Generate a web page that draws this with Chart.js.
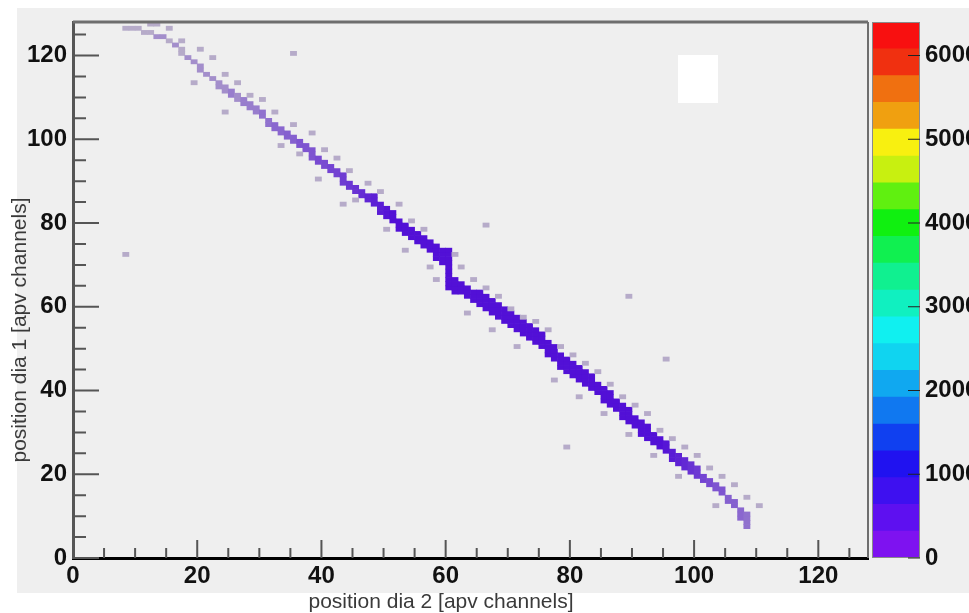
<!DOCTYPE html>
<html>
<head>
<meta charset="utf-8">
<script src="https://cdn.jsdelivr.net/npm/chart.js@4.4.1/dist/chart.umd.min.js"></script>
<style>
  body { margin: 0; background: #fff; width: 969px; height: 613px; overflow: hidden; position: relative; }
  #bg { position: absolute; left: 17px; top: 8px; width: 952px; height: 585px; background: #efefef; }
  #hist { position: absolute; left: 0; top: 0; }
  #zbar { position: absolute; left: 860px; top: 0; }
</style>
</head>
<body>
<div id="bg"></div>
<canvas id="hist" width="969" height="613"></canvas>
<canvas id="zbar" width="109" height="613"></canvas>
<script>
// 2D histogram: position dia 1 vs position dia 2

const xTitle = 'position dia 2 [apv channels]'
const yTitle = 'position dia 1 [apv channels]'
const axisMax = 128
const zMax = 6400
const zTicks = [0, 1000, 2000, 3000, 4000, 5000, 6000]

// band of hits, one entry per channel column starting at firstCol
const firstCol = 8
const bandLo = [
  126,126,126,125,125,124,124,123,122,120,
  119,118,116,115,114,112,111,110,109,108,
  107,106,105,103,102,101,100,99,98,97,
  95,94,93,92,91,89,88,87,86,85,
  84,82,81,80,78,77,76,75,74,73,
  71,70,64,63,63,62,61,60,59,58,
  57,56,55,54,53,52,51,50,48,47,
  45,44,43,42,41,40,39,37,36,35,
  33,32,31,29,28,27,26,25,23,22,
  21,20,19,18,17,16,15,13,12,9,7
]
const bandThick = [
  1,1,1,1,1,1,1,1,1,2,
  1,1,2,1,1,2,2,2,2,2,
  2,2,2,2,2,2,2,2,2,2,
  3,2,2,2,2,3,2,2,2,2,
  3,3,3,3,3,3,3,3,3,3,
  4,4,10,4,3,3,3,4,4,4,
  4,4,4,4,4,4,4,4,4,4,
  4,4,4,4,4,4,3,4,4,3,
  4,4,3,4,4,3,3,3,3,3,
  3,3,3,2,2,2,2,2,2,3,4
]
const bandCount = [
  1,1,1,1,1,2,2,1,2,1,
  2,2,2,2,2,2,2,3,2,3,
  3,3,4,4,5,5,6,6,8,8,
  8,10,10,12,12,14,16,18,20,24,
  28,30,36,40,46,50,55,60,60,70,
  80,85,90,95,100,105,110,115,120,125,
  130,140,140,145,150,150,150,145,140,135,
  130,125,120,110,105,100,95,90,85,80,
  70,65,60,55,50,45,40,35,30,26,
  22,18,15,12,10,8,8,6,6,5,4
]

// isolated single hits around the band
const strayX = [12,13,15,17,20,22,19,24,26,28,24,30,32,33,35,36,38,40,39,42,
  44,45,43,47,49,50,52,54,53,56,57,58,61,62,64,63,66,68,67,70,
  72,71,74,76,78,77,80,82,81,84,86,85,88,90,89,92,94,93,96,98,
  97,100,102,104,103,106,108,110,8,89,79,66,95,35]
const strayY = [127,127,126,123,121,119,113,115,113,110,106,109,106,98,103,96,101,97,90,95,
  92,85,84,89,87,78,84,80,73,78,69,66,72,69,66,58,64,62,54,59,
  57,50,56,54,50,42,48,46,38,44,41,34,38,36,29,34,30,24,28,26,
  19,24,21,19,12,17,14,12,72,62,26,79,47,120]

// colour palette of the z axis, bottom to top
const palette = ['#7e12f0','#5e10f0','#3e10f0','#2012f0','#1040f0','#1078f0','#10a8f0','#10d4f0',
  '#10f0f0','#10f0c0','#10f090','#10f050','#10f010','#60f010','#c8f010','#f8f010',
  '#f0a010','#f07010','#f03010','#f81010']

const tickFont = { family: '"Liberation Sans", Arial, sans-serif', size: 24, weight: 'bold' }

function hex(c) { return [1, 3, 5].map(i => parseInt(c.substr(i, 2), 16)) }
function mix(a, b, t) {
  const p = hex(a), q = hex(b)
  return 'rgb(' + p.map((v, i) => Math.round(v + (q[i] - v) * t)).join(',') + ')'
}
function cellColor(n) {
  const lvl = Math.min(palette.length - 1, Math.floor(n / (zMax / palette.length)))
  if (lvl > 0) return palette[lvl]
  // lowest level: single hits look grey-violet in the picture, dense ones saturate
  const t = Math.min(1, Math.log(n) / Math.log(40))
  return mix('#b6abc9', '#5210d6', t)
}

const cells = []
bandLo.forEach((lo, i) => {
  for (let k = 0; k < bandThick[i]; k++) {
    cells.push({ x: firstCol + i + 0.5, y: [lo + k, lo + k + 1], v: bandCount[i] })
  }
})
strayX.forEach((x, i) => {
  cells.push({ x: x + 0.5, y: [strayY[i], strayY[i] + 1], v: 1 })
})

const frameAndTicks = {
  id: 'frameAndTicks',
  afterDraw(chart) {
    const ctx = chart.ctx
    const a = chart.chartArea
    const xs = chart.scales.x, ys = chart.scales.y
    ctx.save()
    // stats box leftover
    ctx.fillStyle = '#ffffff'
    ctx.fillRect(678, 55, 40, 48)
    ctx.strokeStyle = '#6e6e6e'
    ctx.lineWidth = 3
    ctx.beginPath()
    ctx.moveTo(a.left, a.top); ctx.lineTo(a.right, a.top)
    ctx.stroke()
    ctx.lineWidth = 2
    ctx.beginPath()
    ctx.moveTo(a.right, a.top); ctx.lineTo(a.right, a.bottom)
    ctx.stroke()
    ctx.strokeStyle = '#555'
    ctx.lineWidth = 2
    ctx.beginPath()
    xs.ticks.forEach(t => {
      const p = xs.getPixelForValue(t.value)
      const len = t.value % 20 === 0 ? 18 : 10
      ctx.moveTo(p, a.bottom); ctx.lineTo(p, a.bottom - len)
    })
    ys.ticks.forEach(t => {
      const p = ys.getPixelForValue(t.value)
      const len = t.value % 20 === 0 ? 26 : 13
      ctx.moveTo(a.left, p); ctx.lineTo(a.left + len, p)
    })
    ctx.stroke()
    // axis titles
    ctx.fillStyle = '#3a3a3a'
    ctx.font = '21px "Liberation Sans", Arial, sans-serif'
    ctx.textAlign = 'center'
    ctx.textBaseline = 'middle'
    ctx.fillText(xTitle, 441, 602)
    ctx.translate(20, 330)
    ctx.rotate(-Math.PI / 2)
    ctx.fillText(yTitle, 0, 0)
    ctx.restore()
  }
}

new Chart(document.getElementById('hist'), {
  type: 'bar',
  data: {
    datasets: [{
      data: cells,
      backgroundColor: cells.map(c => cellColor(c.v)),
      borderWidth: 0,
      barPercentage: 1,
      categoryPercentage: 1,
      grouped: false
    }]
  },
  options: {
    responsive: false,
    animation: false,
    layout: { padding: { left: 0, right: 101, top: 22, bottom: 0 } },
    plugins: { legend: { display: false }, tooltip: { enabled: false } },
    scales: {
      x: {
        type: 'linear', min: 0, max: axisMax, offset: false,
        afterFit(s) { s.height = 55 },
        grid: { display: false, drawTicks: false },
        border: { color: '#000', width: 3 },
        ticks: {
          stepSize: 5, autoSkip: false, includeBounds: false, maxRotation: 0, padding: 4,
          color: '#111', font: tickFont,
          callback: v => v % 20 === 0 ? v : ''
        }
      },
      y: {
        type: 'linear', min: 0, max: axisMax,
        afterFit(s) { s.width = 73 },
        grid: { display: false, drawTicks: false },
        border: { color: '#555', width: 3 },
        ticks: {
          stepSize: 5, autoSkip: false, includeBounds: false, padding: 6,
          color: '#111', font: tickFont,
          callback: v => v % 20 === 0 ? v : ''
        }
      }
    }
  },
  plugins: [frameAndTicks]
})

// colour scale on the right
const zbarTicks = {
  id: 'zbarTicks',
  afterDraw(chart) {
    const ctx = chart.ctx
    const a = chart.chartArea
    const ys = chart.scales.y
    ctx.save()
    ctx.strokeStyle = '#8a8a8a'
    ctx.lineWidth = 1
    ctx.strokeRect(a.left + 0.5, a.top + 0.5, a.right - a.left - 1, a.bottom - a.top - 1)
    ctx.strokeStyle = '#222'
    ctx.lineWidth = 1
    ctx.beginPath()
    ys.ticks.forEach(t => {
      const p = ys.getPixelForValue(t.value)
      ctx.moveTo(a.right, p); ctx.lineTo(a.right - 12, p)
    })
    ctx.stroke()
    ctx.restore()
  }
}

new Chart(document.getElementById('zbar'), {
  type: 'bar',
  data: {
    labels: [''],
    datasets: palette.map(c => ({
      data: [zMax / palette.length],
      backgroundColor: c,
      borderWidth: 0,
      barPercentage: 1,
      categoryPercentage: 1
    }))
  },
  options: {
    responsive: false,
    animation: false,
    layout: { padding: { top: 22, bottom: 55, left: 12, right: 0 } },
    plugins: { legend: { display: false }, tooltip: { enabled: false } },
    scales: {
      x: { display: false, stacked: true },
      y: {
        position: 'right', stacked: true, min: 0, max: zMax,
        afterFit(s) { s.width = 49 },
        afterBuildTicks(s) { s.ticks = zTicks.map(v => ({ value: v })) },
        grid: { display: false, drawTicks: false },
        border: { display: false },
        ticks: { padding: 5, color: '#111', font: tickFont, callback: v => String(v) }
      }
    }
  },
  plugins: [zbarTicks]
})
</script>
</body>
</html>
